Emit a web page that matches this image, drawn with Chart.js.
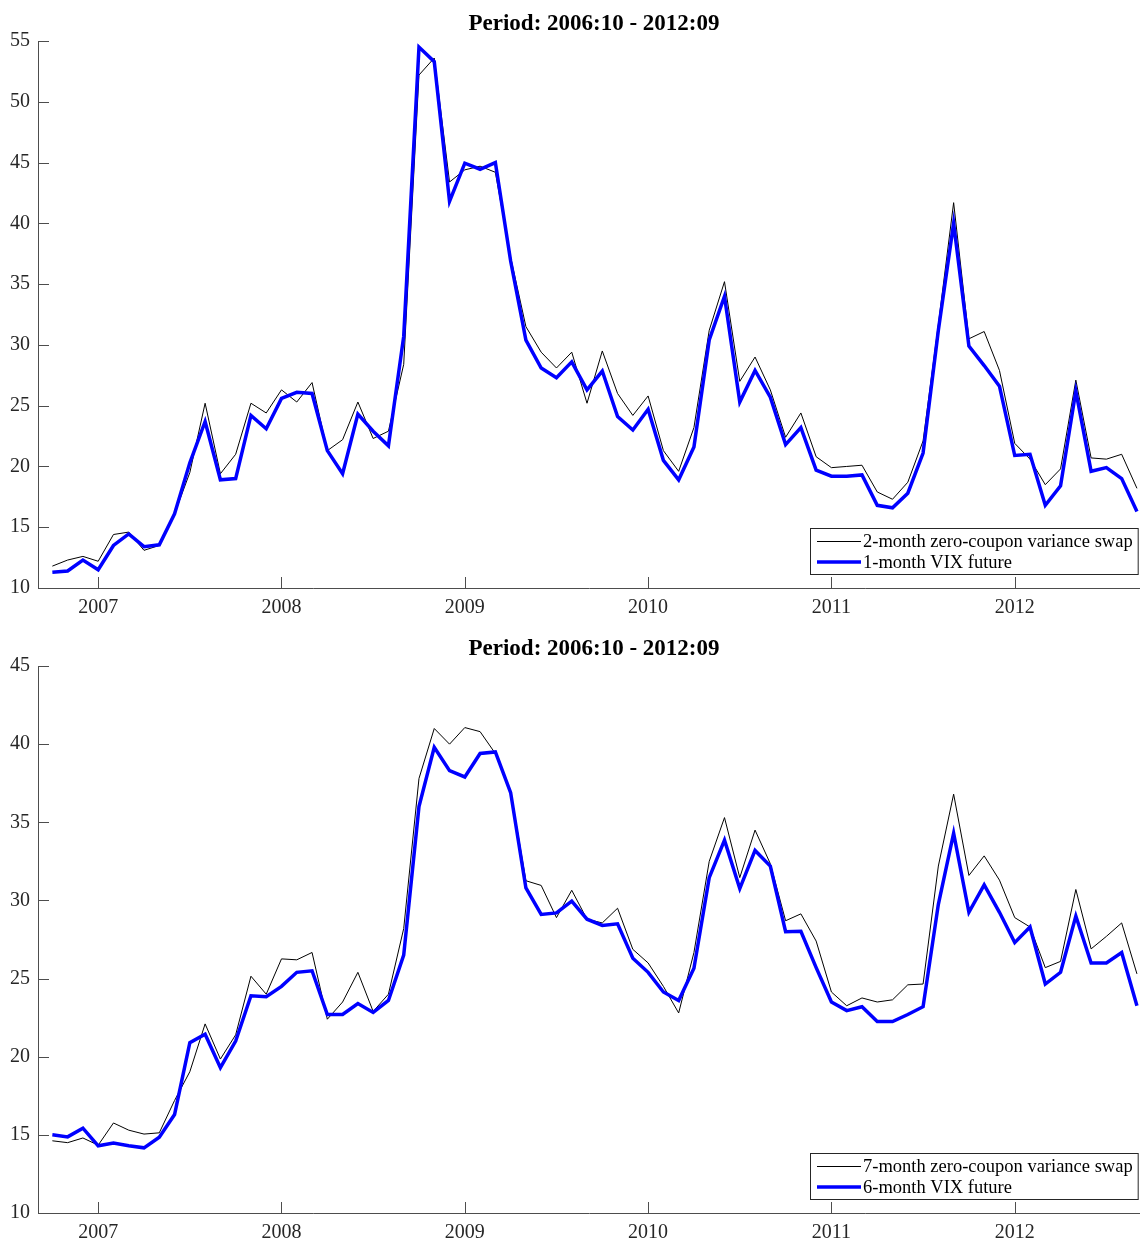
<!DOCTYPE html>
<html>
<head>
<meta charset="utf-8">
<title>Variance swaps vs VIX futures</title>
<script src="https://cdn.jsdelivr.net/npm/chart.js@4.4.1/dist/chart.umd.min.js"></script>
<style>
  body { margin: 0; background: #fff; overflow: hidden; }
  .panel { position: absolute; left: 0; width: 1140px; height: 620px; }
</style>
</head>
<body>
<div class="panel" style="top: 0px;"><canvas id="topChart" width="1140" height="620"></canvas></div>
<div class="panel" style="top: 625px;"><canvas id="bottomChart" width="1140" height="620"></canvas></div>
<script>
// Monthly observations 2006:10 - 2012:09, month index 0 = 2007:01
let firstMonth = -3;
let yearLabels = ["2007", "2008", "2009", "2010", "2011", "2012"];
let periodTitle = "Period: 2006:10 - 2012:09";

// Top panel
let swap2Label = "2-month zero-coupon variance swap";
let swap2 = [
  11.8, 12.3, 12.6, 12.2,
  14.4, 14.6, 13.1, 13.5, 16.1, 19.5, 25.2, 19.4, 21.0, 25.2, 24.4, 26.3,
  25.3, 26.9, 21.3, 22.2, 25.3, 22.3, 22.9, 28.4, 52.2, 53.6, 43.4, 44.4,
  44.7, 44.2, 37.2, 31.5, 29.4, 28.1, 29.4, 25.2, 29.5, 26.0, 24.2, 25.8,
  21.3, 19.6, 23.2, 31.2, 35.2, 27.0, 29.0, 26.3, 22.4, 24.4, 20.8, 19.9,
  20.0, 20.1, 17.9, 17.3, 18.7, 22.1, 31.7, 41.7, 30.5, 31.1, 27.9, 21.9,
  20.6, 18.5, 19.8, 27.1, 20.7, 20.6, 21.0, 18.2
];
let vix1Label = "1-month VIX future";
let vix1 = [
  11.3, 11.4, 12.3, 11.5,
  13.5, 14.45, 13.4, 13.55, 16.1, 20.3, 23.7, 18.9, 19.0, 24.2, 23.1, 25.6,
  26.1, 26.0, 21.3, 19.4, 24.3, 22.9, 21.7, 30.7, 54.5, 53.3, 41.8, 44.95,
  44.45, 45.0, 36.9, 30.4, 28.1, 27.3, 28.6, 26.3, 27.85, 24.1, 23.0, 24.7,
  20.5, 18.9, 21.6, 30.4, 34.0, 25.3, 27.9, 25.7, 21.8, 23.2, 19.7, 19.2,
  19.2, 19.3, 16.8, 16.6, 17.8, 21.1, 31.2, 40.0, 29.9, 28.3, 26.6, 20.9,
  21.0, 16.8, 18.4, 26.2, 19.6, 19.9, 19.0, 16.3
];

// Bottom panel
let swap7Label = "7-month zero-coupon variance swap";
let swap7 = [
  14.62, 14.5, 14.8, 14.34,
  15.76, 15.3, 15.05, 15.13, 17.2, 19.04, 22.1, 19.85, 21.4, 25.15, 24.0, 26.26,
  26.2, 26.67, 22.4, 23.5, 25.4, 22.9, 24.0, 28.2, 37.8, 41.0, 40.0, 41.06,
  40.8, 39.4, 37.0, 31.26, 30.96, 28.9, 30.65, 28.8, 28.56, 29.5, 26.87, 26.0,
  24.5, 22.8, 26.67, 32.5, 35.3, 31.46, 34.5, 32.35, 28.7, 29.14, 27.4, 24.14,
  23.26, 23.76, 23.5, 23.64, 24.6, 24.65, 32.2, 36.8, 31.6, 32.85, 31.3, 28.9,
  28.3, 25.7, 26.1, 30.7, 26.9, 27.7, 28.56, 25.3
];
let vix6Label = "6-month VIX future";
let vix6 = [
  15.0, 14.87, 15.43, 14.3,
  14.47, 14.3, 14.17, 14.85, 16.3, 20.9, 21.44, 19.3, 21.0, 23.9, 23.84, 24.5,
  25.4, 25.5, 22.7, 22.7, 23.4, 22.83, 23.6, 26.5, 36.0, 39.8, 38.3, 37.9,
  39.4, 39.5, 36.9, 30.8, 29.1, 29.2, 29.95, 28.8, 28.4, 28.5, 26.3, 25.4,
  24.14, 23.6, 25.66, 31.46, 33.86, 30.76, 33.2, 32.2, 28.0, 28.03, 25.7, 23.5,
  22.95, 23.2, 22.25, 22.25, 22.7, 23.2, 29.75, 34.3, 29.24, 31.0, 29.24, 27.3,
  28.3, 24.65, 25.4, 29.0, 26.0, 26.0, 26.67, 23.26
];

let axisColor = "#4d4d4d";
let textColor = "#262626";
let serif = "'Liberation Serif', 'Times New Roman', serif";

// Turn a list of monthly values into {x, y} points
function toPoints(values) {
  return values.map((v, i) => ({ x: firstMonth + i, y: v }));
}

// Inward tick marks, title and boxed legend (drawn like the original figure)
const decorations = {
  id: "decorations",
  afterDatasetsDraw(chart) {
    const ctx = chart.ctx;
    const area = chart.chartArea;
    const xs = chart.scales.x;
    const ys = chart.scales.y;
    ctx.save();

    // tick marks pointing into the plot
    ctx.strokeStyle = axisColor;
    ctx.lineWidth = 1;
    ctx.beginPath();
    xs.ticks.forEach((t) => {
      const px = Math.round(xs.getPixelForValue(t.value)) + 0.5;
      ctx.moveTo(px, area.bottom);
      ctx.lineTo(px, area.bottom - 11);
    });
    ys.ticks.forEach((t) => {
      const py = Math.round(ys.getPixelForValue(t.value)) + 0.5;
      ctx.moveTo(area.left, py);
      ctx.lineTo(area.left + 11, py);
    });
    ctx.stroke();

    // title
    ctx.fillStyle = "#000";
    ctx.font = "bold 23px " + serif;
    ctx.textAlign = "center";
    ctx.textBaseline = "middle";
    ctx.fillText(chart.options.plugins.decorations.title, (area.left + area.right) / 2 + 5, 24);

    // legend box in the lower right corner
    const sets = chart.data.datasets;
    ctx.font = "18.5px " + serif;
    const textW = Math.max(...sets.map((d) => ctx.measureText(d.label).width));
    const sample = 44;
    const w = 7 + sample + 2 + textW + 5;
    const h = 46;
    const x0 = Math.round(area.right - 2 - w);
    const y0 = Math.round(area.bottom - 14 - h);
    ctx.fillStyle = "#fff";
    ctx.fillRect(x0, y0, w, h);
    ctx.strokeStyle = textColor;
    ctx.lineWidth = 1;
    ctx.strokeRect(x0 + 0.5, y0 + 0.5, w, h);
    ctx.textAlign = "left";
    sets.forEach((d, i) => {
      const yy = y0 + 13.5 + i * 20.5;
      ctx.strokeStyle = d.borderColor;
      ctx.lineWidth = d.borderWidth;
      ctx.beginPath();
      ctx.moveTo(x0 + 7, yy);
      ctx.lineTo(x0 + 7 + sample, yy);
      ctx.stroke();
      ctx.fillStyle = "#000";
      ctx.fillText(d.label, x0 + 7 + sample + 2, yy + 1);
    });

    ctx.restore();
  },
};

function makeChart(canvasId, swapLabel, swapValues, vixLabel, vixValues, yMax) {
  const ctx = document.getElementById(canvasId).getContext("2d");
  return new Chart(ctx, {
    type: "line",
    data: {
      datasets: [
        {
          label: swapLabel,
          data: toPoints(swapValues),
          borderColor: "#000000",
          borderWidth: 1,
          pointRadius: 0,
          tension: 0,
          order: 1,
        },
        {
          label: vixLabel,
          data: toPoints(vixValues),
          borderColor: "#0000ff",
          borderWidth: 3.5,
          pointRadius: 0,
          tension: 0,
          order: 0,
        },
      ],
    },
    options: {
      responsive: false,
      animation: false,
      layout: { padding: { top: 41, left: 0, right: 0, bottom: 0 } },
      plugins: {
        legend: { display: false },
        title: { display: false },
        tooltip: { enabled: false },
        decorations: { title: periodTitle },
      },
      scales: {
        x: {
          type: "linear",
          min: -3.94,
          max: 68.2,
          afterBuildTicks: (scale) => {
            scale.ticks = yearLabels.map((_, i) => ({ value: i * 12 }));
          },
          afterFit: (scale) => {
            scale.height = 32;
          },
          ticks: {
            callback: (v) => yearLabels[v / 12],
            color: textColor,
            font: { family: serif, size: 20 },
            padding: 8,
            maxRotation: 0,
          },
          grid: { display: true, drawOnChartArea: false, drawTicks: false },
          border: { display: true, color: axisColor, width: 1 },
        },
        y: {
          min: 10,
          max: yMax,
          afterFit: (scale) => {
            scale.width = 38;
          },
          ticks: {
            stepSize: 5,
            color: textColor,
            font: { family: serif, size: 20 },
            padding: 8,
          },
          grid: { display: true, drawOnChartArea: false, drawTicks: false },
          border: { display: true, color: axisColor, width: 1 },
        },
      },
    },
    plugins: [decorations],
  });
}

let topChart = makeChart("topChart", swap2Label, swap2, vix1Label, vix1, 55);
let bottomChart = makeChart("bottomChart", swap7Label, swap7, vix6Label, vix6, 45);
</script>
</body>
</html>
